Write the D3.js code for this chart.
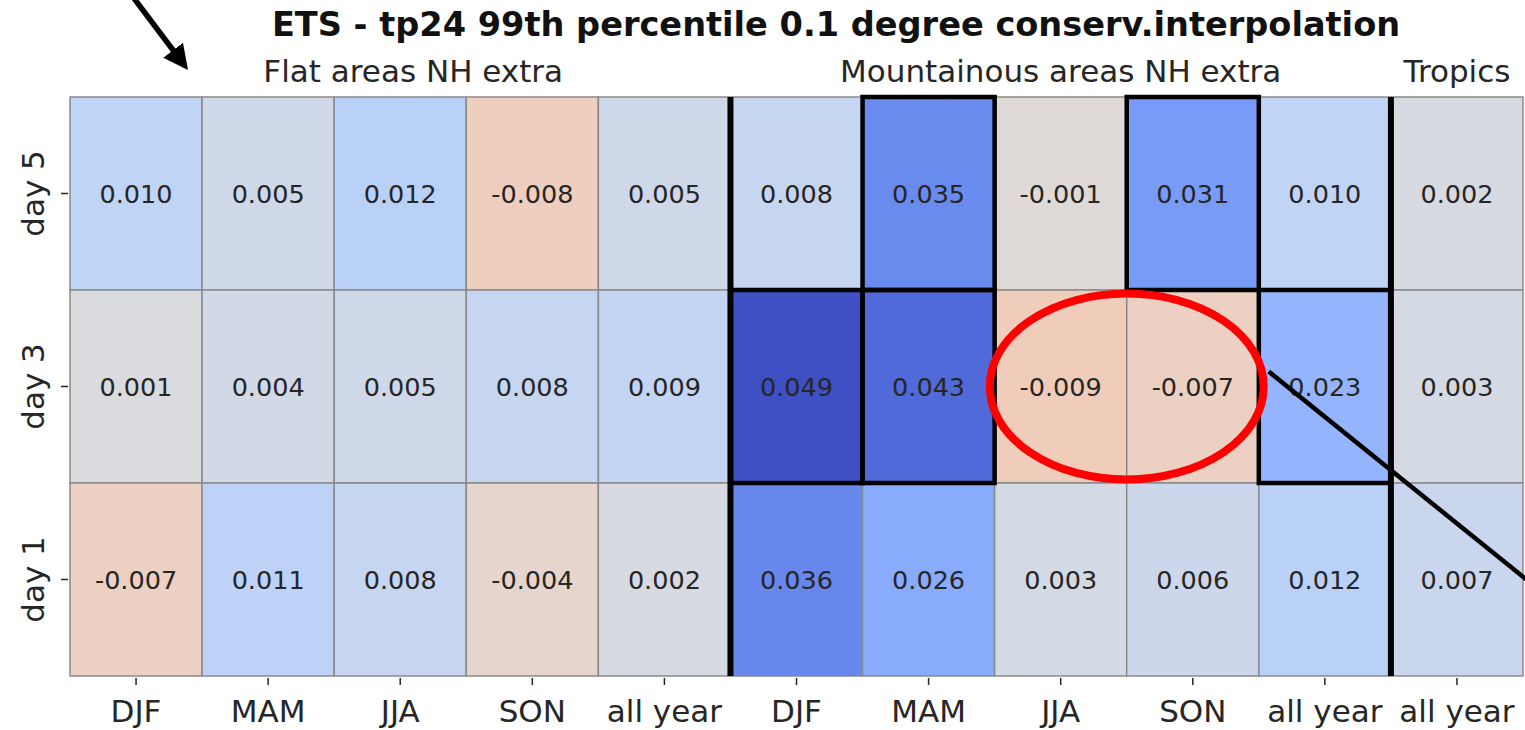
<!DOCTYPE html>
<html>
<head>
<meta charset="utf-8">
<script src="https://cdn.jsdelivr.net/npm/d3@7"></script>
<style>
  body { margin: 0; background: #fff; }
  text { font-family: "DejaVu Sans", sans-serif; }
</style>
</head>
<body>
<script>
// data
var columns = ["DJF", "MAM", "JJA", "SON", "all year", "DJF", "MAM", "JJA", "SON", "all year", "all year"];
var rows = ["day 5", "day 3", "day 1"];
var day5 = [0.010, 0.005, 0.012, -0.008, 0.005, 0.008, 0.035, -0.001, 0.031, 0.010, 0.002];
var day3 = [0.001, 0.004, 0.005, 0.008, 0.009, 0.049, 0.043, -0.009, -0.007, 0.023, 0.003];
var day1 = [-0.007, 0.011, 0.008, -0.004, 0.002, 0.036, 0.026, 0.003, 0.006, 0.012, 0.007];
var values = [day5, day3, day1];
// significant cells [row, col]
var significant = [[0, 6], [0, 8], [1, 5], [1, 6], [1, 9]];
var groups = [
  {name: "Flat areas NH extra", first: 0, last: 4},
  {name: "Mountainous areas NH extra", first: 5, last: 9},
  {name: "Tropics", first: 10, last: 10}
];
var title = "ETS - tp24 99th percentile 0.1 degree conserv.interpolation";

var w = 1525, h = 730;
var mLeft = 70, mRight = 1523, mTop = 97, mBottom = 676;

var svg = d3.select("body").append("svg")
    .attr("width", w)
    .attr("height", h);

var xScale = d3.scaleBand()
    .domain(d3.range(columns.length))
    .range([mLeft, mRight]);

var yScale = d3.scaleBand()
    .domain(d3.range(rows.length))
    .range([mTop, mBottom]);

// reversed coolwarm, centred at 0
var coolwarm = ["#3b4cc0", "#5977e3", "#7b9ff9", "#9ebeff", "#c0d4f5", "#dddcdc",
                "#f2cbb7", "#f7ac8e", "#ee8468", "#d65244", "#b40426"];
var colorScale = d3.scaleLinear()
    .domain(d3.range(11).map(function(i) { return 0.05 - i * 0.01; }))
    .range(coolwarm)
    .clamp(true);

var fmt = function(v) { return d3.format(".3f")(v).replace("\u2212", "-"); };

var cells = [];
values.forEach(function(row, r) {
  row.forEach(function(v, c) { cells.push({r: r, c: c, v: v}); });
});

svg.append("g").selectAll("rect")
    .data(cells)
    .enter()
    .append("rect")
    .attr("x", function(d) { return xScale(d.c); })
    .attr("y", function(d) { return yScale(d.r); })
    .attr("width", xScale.bandwidth())
    .attr("height", yScale.bandwidth())
    .attr("fill", function(d) { return colorScale(d.v); })
    .attr("stroke", "#8a8a8a")
    .attr("stroke-width", 1.5);

svg.append("g").selectAll("text")
    .data(cells)
    .enter()
    .append("text")
    .attr("x", function(d) { return xScale(d.c) + xScale.bandwidth() / 2; })
    .attr("y", function(d) { return yScale(d.r) + yScale.bandwidth() / 2; })
    .attr("text-anchor", "middle")
    .attr("dominant-baseline", "central")
    .attr("font-size", 25.5)
    .attr("fill", "#262626")
    .text(function(d) { return fmt(d.v); });

// bold boxes for significant cells
svg.append("g").selectAll("rect")
    .data(significant)
    .enter()
    .append("rect")
    .attr("x", function(d) { return xScale(d[1]); })
    .attr("y", function(d) { return yScale(d[0]); })
    .attr("width", xScale.bandwidth())
    .attr("height", yScale.bandwidth())
    .attr("fill", "none")
    .attr("stroke", "#000")
    .attr("stroke-width", 4.5);

// group separators
groups.slice(1).forEach(function(g) {
  svg.append("line")
    .attr("x1", xScale(g.first)).attr("x2", xScale(g.first))
    .attr("y1", mTop).attr("y2", mBottom)
    .attr("stroke", "#000")
    .attr("stroke-width", 6);
});

// x ticks
var xg = svg.append("g");
columns.forEach(function(c, i) {
  var cx = xScale(i) + xScale.bandwidth() / 2;
  xg.append("line")
    .attr("x1", cx).attr("x2", cx)
    .attr("y1", mBottom + 2).attr("y2", mBottom + 9)
    .attr("stroke", "#262626").attr("stroke-width", 1.5);
  xg.append("text")
    .attr("x", cx)
    .attr("y", mBottom + 46)
    .attr("text-anchor", "middle")
    .attr("font-size", 31)
    .attr("fill", "#262626")
    .text(c);
});

// y ticks
var yg = svg.append("g");
rows.forEach(function(r, i) {
  var cy = yScale(i) + yScale.bandwidth() / 2;
  yg.append("line")
    .attr("x1", mLeft - 9).attr("x2", mLeft - 2)
    .attr("y1", cy).attr("y2", cy)
    .attr("stroke", "#262626").attr("stroke-width", 1.5);
  yg.append("text")
    .attr("transform", "translate(" + (mLeft - 26) + "," + cy + ") rotate(-90)")
    .attr("text-anchor", "middle")
    .attr("font-size", 31)
    .attr("fill", "#262626")
    .text(r);
});

// group labels
svg.append("g").selectAll("text")
    .data(groups)
    .enter()
    .append("text")
    .attr("x", function(g, i) {
      var mid = (xScale(g.first) + xScale(g.last) + xScale.bandwidth()) / 2;
      return i == 0 ? mid + 13 : mid;
    })
    .attr("y", mTop - 15)
    .attr("text-anchor", "middle")
    .attr("font-size", 31)
    .attr("fill", "#262626")
    .text(function(g) { return g.name; });

svg.append("text")
    .attr("x", 836)
    .attr("y", 36)
    .attr("text-anchor", "middle")
    .attr("font-size", 33.6)
    .attr("font-weight", "bold")
    .attr("fill", "#111")
    .text(title);

// annotations: arrow, red ellipse, pointer line
var defs = svg.append("defs");
defs.append("marker")
    .attr("id", "head")
    .attr("viewBox", "0 0 10 10")
    .attr("refX", 8).attr("refY", 5)
    .attr("markerWidth", 4.5).attr("markerHeight", 4.5)
    .attr("orient", "auto")
    .append("path")
    .attr("d", "M0,0 L10,5 L0,10 z")
    .attr("fill", "#000");

svg.append("line")
    .attr("x1", mLeft + 63).attr("y1", -3)
    .attr("x2", mLeft + 115).attr("y2", mTop - 31)
    .attr("stroke", "#000")
    .attr("stroke-width", 5.5)
    .attr("marker-end", "url(#head)");

var ex = xScale(8), ey = yScale(1) + yScale.bandwidth() / 2;
svg.append("ellipse")
    .attr("cx", ex).attr("cy", ey)
    .attr("rx", 137).attr("ry", 93)
    .attr("fill", "none")
    .attr("stroke", "#f00")
    .attr("stroke-width", 8);

svg.append("line")
    .attr("x1", ex + 142).attr("y1", ey - 15)
    .attr("x2", w + 5).attr("y2", ey + 196)
    .attr("stroke", "#000")
    .attr("stroke-width", 4.5);
</script>
</body>
</html>
